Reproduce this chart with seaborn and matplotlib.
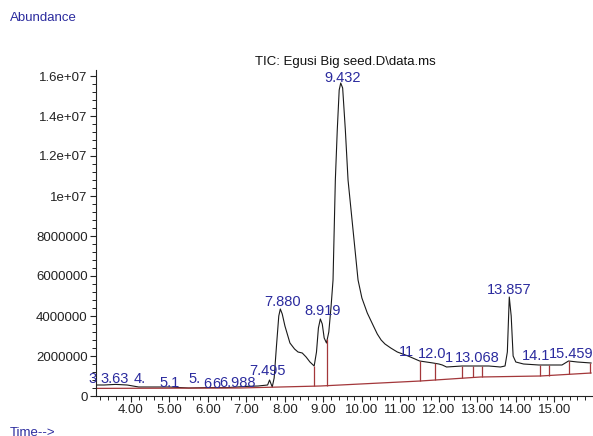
import numpy as np
import pandas as pd
import matplotlib
matplotlib.use("Agg")
import matplotlib.pyplot as plt
from matplotlib.ticker import MultipleLocator, FuncFormatter
import seaborn as sns

# TIC trace (time in min, abundance)
time = [3.09, 3.3, 3.6, 3.9, 4.2, 4.5, 5.0, 5.3, 5.5, 6.0, 6.5, 7.0, 7.3, 7.55,
        7.6, 7.67, 7.72, 7.78, 7.84, 7.88, 7.93, 8.0, 8.13, 8.25, 8.34, 8.45,
        8.55, 8.65, 8.76, 8.82, 8.87, 8.92, 8.97, 9.02, 9.08, 9.14, 9.2, 9.25,
        9.31, 9.36, 9.41, 9.45, 9.5, 9.57, 9.64, 9.77, 9.9, 10.0, 10.14, 10.3,
        10.4, 10.5, 10.6, 10.75, 10.92, 11.2, 11.5, 11.85, 12.0, 12.09, 12.2,
        12.6, 13.0, 13.3, 13.6, 13.72, 13.78, 13.83, 13.88, 13.93, 14.0, 14.2,
        14.6, 14.9, 15.2, 15.37, 15.6, 15.96]
abundance = [0.55, 0.55, 0.58, 0.55, 0.45, 0.45, 0.45, 0.42, 0.40, 0.42, 0.42,
             0.48, 0.50, 0.55, 0.80, 0.45, 0.90, 2.5, 4.0, 4.35, 4.1, 3.5, 2.65,
             2.35, 2.2, 2.15, 1.95, 1.7, 1.5, 2.2, 3.4, 3.85, 3.6, 2.9, 2.65,
             3.2, 4.5, 5.8, 10.8, 13.3, 15.3, 15.65, 15.4, 13.3, 10.8, 8.3, 5.8,
             4.9, 4.15, 3.5, 3.1, 2.8, 2.6, 2.4, 2.2, 2.0, 1.75, 1.65, 1.6, 1.55,
             1.45, 1.5, 1.5, 1.5, 1.45, 1.5, 2.2, 4.95, 4.0, 2.0, 1.7, 1.6, 1.55,
             1.55, 1.55, 1.75, 1.7, 1.65]
abundance = [a * 1e6 for a in abundance]

# integration baseline and drop lines
base_t = [3.09, 6.83, 8.92, 10.48, 11.52, 13.08, 14.64, 15.96]
base_y = [0.38e6, 0.40e6, 0.50e6, 0.65e6, 0.75e6, 0.95e6, 1.0e6, 1.15e6]
drop_t = [8.76, 9.10, 11.52, 11.91, 12.61, 12.89, 13.13, 14.64, 14.85, 15.39, 15.94]

# peak labels
label_txt = ["3", "3.63", "4.", "5.1", "5.", "6", "6", "6.988", "7.495", "7.880",
             "8.919", "9.432", "11", "12.0", "1", "13.068", "13.857", "14.1", "15.459"]
label_t = [2.99, 3.58, 4.23, 4.99, 5.64, 5.98, 6.22, 6.78, 7.54, 7.93,
           8.97, 9.49, 11.15, 11.83, 12.27, 13.0, 13.83, 14.53, 15.44]
label_y = [0.85, 0.85, 0.85, 0.65, 0.85, 0.6, 0.6, 0.65, 1.25, 4.7,
           4.25, 15.9, 2.2, 2.1, 1.9, 1.9, 5.3, 2.0, 2.1]

sns.set_style("ticks")
plt.rcParams['font.family'] = ['Liberation Sans', 'DejaVu Sans']

fig = plt.figure(figsize=(5.93, 4.36), dpi=100)
ax = fig.add_axes([96 / 593, 40 / 436, 496 / 593, 326 / 436])

df = pd.DataFrame({'Time': time, 'Abundance': abundance})
sns.lineplot(data=df, x='Time', y='Abundance', color='#1a1a1a', linewidth=0.8, ax=ax)

red = '#a3373a'
ax.plot(base_t, base_y, color=red, linewidth=0.9)
drop_bot = np.interp(drop_t, base_t, base_y)
drop_top = np.interp(drop_t, time, abundance)
ax.vlines(drop_t, drop_bot, drop_top, color=red, linewidth=0.9)

navy = '#2b2b9e'
for t, s, yv in zip(label_t, label_txt, label_y):
    ax.text(t, yv * 1e6, s, ha='center', va='center', color=navy, fontsize=10.5,
            clip_on=False)

ax.set_xlim(3.09, 15.98)
ax.set_ylim(0, 16.3e6)
ax.xaxis.set_major_locator(MultipleLocator(1))
ax.xaxis.set_minor_locator(MultipleLocator(0.2))
ax.yaxis.set_major_locator(MultipleLocator(2e6))
ax.yaxis.set_minor_locator(MultipleLocator(4e5))
ax.xaxis.set_major_formatter(FuncFormatter(lambda v, p: '%.2f' % v))
ax.yaxis.set_major_formatter(FuncFormatter(lambda v, p: ('%g' % v) if v >= 1e7 else '%d' % v))
ax.tick_params(which='major', length=4, width=0.8, labelsize=9.5, colors='#222222', pad=2)
ax.tick_params(which='minor', length=3, width=0.7, colors='#222222')
ax.set_xlabel('')
ax.set_ylabel('')
sns.despine(ax=ax)
for sp in ['left', 'bottom']:
    ax.spines[sp].set_color('#222222')
    ax.spines[sp].set_linewidth(0.8)

fig.text(345 / 593, 1 - 62 / 436, 'TIC: Egusi Big seed.D\\data.ms', ha='center',
         va='center', fontsize=9.5, color='#111111')
fig.text(10 / 593, 1 - 18 / 436, 'Abundance', ha='left', va='center', fontsize=9.5, color=navy)
fig.text(10 / 593, 3 / 436, 'Time-->', ha='left', va='center', fontsize=9.5, color=navy)

fig.savefig('out.png', dpi=100)
